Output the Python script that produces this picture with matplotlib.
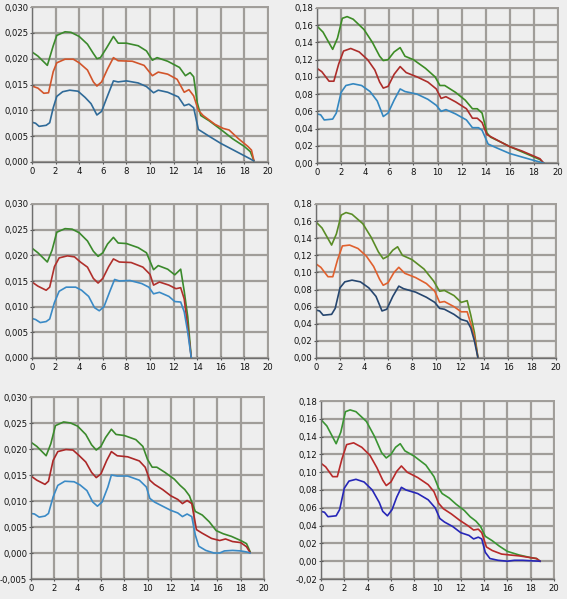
import matplotlib
matplotlib.use("Agg")
import matplotlib.pyplot as plt
from matplotlib.ticker import FuncFormatter, MultipleLocator

# ---- data (x = position, y = value) ----
# top left
tl_green_x = [0, 0.5, 1.3, 1.8, 2.1, 2.8, 3.3, 4.0, 4.7, 5.2, 5.5, 5.8, 6.3, 6.9, 7.3, 8.0, 9.0, 9.7, 10.2, 10.6, 11.5, 12.5, 13.0, 13.4, 13.7, 14.0, 14.3, 15.0, 16.0, 17.0, 18.0, 18.5, 18.8]
tl_green_y = [0.0213, 0.0205, 0.0187, 0.0225, 0.0245, 0.0252, 0.0251, 0.0243, 0.0228, 0.0210, 0.0200, 0.0202, 0.0220, 0.0243, 0.0230, 0.0230, 0.0225, 0.0215, 0.0197, 0.0202, 0.0195, 0.0183, 0.0167, 0.0173, 0.0165, 0.0115, 0.0090, 0.0080, 0.0063, 0.0045, 0.0030, 0.0020, 0.0003]
tl_red_x = [0, 0.5, 1.0, 1.4, 1.8, 2.1, 2.8, 3.5, 4.0, 4.7, 5.2, 5.5, 5.9, 6.4, 6.9, 7.3, 8.5, 9.5, 10.2, 10.7, 11.5, 12.3, 12.9, 13.3, 13.7, 14.1, 14.5, 15.5, 16.2, 16.7, 17.5, 18.3, 18.6, 18.8]
tl_red_y = [0.0147, 0.0143, 0.0133, 0.0134, 0.0175, 0.0192, 0.0199, 0.0199, 0.0192, 0.0178, 0.0155, 0.0147, 0.0155, 0.0180, 0.0202, 0.0196, 0.0195, 0.0187, 0.0167, 0.0174, 0.0170, 0.0160, 0.0135, 0.0140, 0.0128, 0.0100, 0.0090, 0.0073, 0.0065, 0.0062, 0.0045, 0.0030, 0.0023, 0.0003]
tl_blue_x = [0, 0.3, 0.6, 1.2, 1.5, 1.8, 2.1, 2.6, 3.2, 3.9, 4.5, 5.0, 5.5, 5.9, 6.3, 6.9, 7.3, 8.0, 9.0, 9.7, 10.3, 10.7, 11.5, 12.4, 12.9, 13.3, 13.7, 14.1, 15.0, 16.0, 17.0, 18.0, 18.5, 18.8]
tl_blue_y = [0.0077, 0.0075, 0.0069, 0.0071, 0.0076, 0.0105, 0.0127, 0.0136, 0.0139, 0.0137, 0.0125, 0.0113, 0.0091, 0.0098, 0.0122, 0.0157, 0.0155, 0.0157, 0.0153, 0.0146, 0.0134, 0.0139, 0.0135, 0.0126, 0.0109, 0.0112, 0.0105, 0.0063, 0.0050, 0.0036, 0.0024, 0.0012, 0.0006, 0.0002]

# top right
tr_green_x = [0, 0.5, 1.3, 1.7, 2.1, 2.5, 3.0, 3.9, 4.6, 5.2, 5.5, 5.9, 6.4, 6.9, 7.3, 8.0, 9.0, 9.8, 10.2, 10.6, 11.5, 12.3, 12.9, 13.3, 13.7, 14.1, 14.4, 15.3, 16.0, 17.0, 18.0, 18.5, 18.8]
tr_green_y = [0.159, 0.152, 0.132, 0.145, 0.168, 0.170, 0.167, 0.155, 0.140, 0.124, 0.119, 0.120, 0.129, 0.134, 0.124, 0.120, 0.110, 0.100, 0.090, 0.090, 0.082, 0.073, 0.063, 0.063, 0.058, 0.035, 0.030, 0.024, 0.019, 0.013, 0.007, 0.004, 0.000]
tr_red_x = [0, 0.4, 1.0, 1.4, 1.8, 2.2, 2.8, 3.5, 4.2, 4.8, 5.2, 5.5, 5.9, 6.4, 6.9, 7.4, 8.3, 9.2, 9.9, 10.3, 10.7, 11.5, 12.4, 12.9, 13.3, 13.7, 14.1, 14.5, 15.3, 16.0, 17.0, 18.0, 18.5, 18.8]
tr_red_y = [0.110, 0.106, 0.095, 0.095, 0.115, 0.130, 0.133, 0.129, 0.120, 0.108, 0.094, 0.087, 0.089, 0.103, 0.112, 0.105, 0.100, 0.094, 0.086, 0.075, 0.077, 0.071, 0.063, 0.052, 0.052, 0.047, 0.033, 0.030, 0.024, 0.019, 0.014, 0.008, 0.005, 0.000]
tr_blue_x = [0, 0.3, 0.6, 1.3, 1.6, 2.0, 2.4, 3.0, 3.7, 4.4, 5.0, 5.5, 5.9, 6.4, 6.9, 7.3, 8.3, 9.2, 9.9, 10.3, 10.7, 11.5, 12.4, 12.9, 13.4, 13.7, 14.2, 15.0, 16.0, 17.0, 18.0, 18.8]
tr_blue_y = [0.057, 0.056, 0.050, 0.051, 0.058, 0.082, 0.090, 0.092, 0.090, 0.083, 0.072, 0.054, 0.058, 0.073, 0.086, 0.083, 0.080, 0.074, 0.067, 0.060, 0.062, 0.057, 0.050, 0.041, 0.041, 0.038, 0.022, 0.017, 0.011, 0.007, 0.003, 0.000]

# middle left
ml_green_x = [0, 0.5, 1.3, 1.7, 2.1, 2.8, 3.4, 4.0, 4.7, 5.2, 5.6, 6.0, 6.4, 6.9, 7.3, 8.0, 9.0, 9.7, 10.3, 10.7, 11.5, 12.1, 12.6, 12.9, 13.2, 13.5]
ml_green_y = [0.0214, 0.0205, 0.0187, 0.0210, 0.0245, 0.0252, 0.0251, 0.0244, 0.0228, 0.0208, 0.0198, 0.0205, 0.0222, 0.0235, 0.0224, 0.0223, 0.0215, 0.0205, 0.0172, 0.0180, 0.0173, 0.0162, 0.0173, 0.0130, 0.0080, 0.0000]
ml_red_x = [0, 0.5, 1.2, 1.5, 1.9, 2.3, 3.0, 3.6, 4.1, 4.7, 5.2, 5.6, 6.0, 6.5, 6.9, 7.4, 8.4, 9.4, 10.0, 10.3, 10.8, 11.6, 12.2, 12.6, 12.9, 13.2, 13.5]
ml_red_y = [0.0148, 0.0140, 0.0132, 0.0138, 0.0178, 0.0195, 0.0199, 0.0197, 0.0187, 0.0177, 0.0155, 0.0146, 0.0155, 0.0178, 0.0193, 0.0187, 0.0186, 0.0177, 0.0163, 0.0142, 0.0148, 0.0142, 0.0135, 0.0137, 0.0115, 0.0060, 0.0000]
ml_blue_x = [0, 0.3, 0.7, 1.2, 1.5, 1.9, 2.3, 2.9, 3.7, 4.2, 4.8, 5.3, 5.7, 6.1, 6.6, 7.0, 7.4, 8.3, 9.3, 9.9, 10.3, 10.8, 11.6, 12.1, 12.6, 12.9, 13.2, 13.5]
ml_blue_y = [0.0077, 0.0075, 0.0069, 0.0071, 0.0076, 0.0108, 0.0130, 0.0138, 0.0138, 0.0132, 0.0120, 0.0098, 0.0092, 0.0100, 0.0130, 0.0153, 0.0150, 0.0151, 0.0145, 0.0138, 0.0125, 0.0128, 0.0120, 0.0110, 0.0109, 0.0090, 0.0050, 0.0000]

# middle right
mr_green_x = [0, 0.5, 1.3, 1.7, 2.1, 2.5, 3.0, 3.9, 4.6, 5.2, 5.6, 6.0, 6.4, 6.8, 7.2, 8.0, 9.0, 9.8, 10.3, 10.7, 11.5, 12.1, 12.6, 12.9, 13.2, 13.5]
mr_green_y = [0.159, 0.152, 0.132, 0.145, 0.167, 0.170, 0.168, 0.157, 0.141, 0.124, 0.116, 0.119, 0.126, 0.130, 0.120, 0.115, 0.104, 0.090, 0.078, 0.079, 0.073, 0.065, 0.067, 0.050, 0.030, 0.000]
mr_red_x = [0, 0.4, 1.0, 1.4, 1.8, 2.2, 2.8, 3.5, 4.2, 4.8, 5.3, 5.6, 6.0, 6.5, 6.9, 7.4, 8.3, 9.2, 9.9, 10.3, 10.7, 11.5, 12.1, 12.6, 12.9, 13.2, 13.5]
mr_red_y = [0.110, 0.106, 0.095, 0.095, 0.115, 0.131, 0.132, 0.128, 0.119, 0.107, 0.092, 0.085, 0.088, 0.100, 0.106, 0.099, 0.094, 0.087, 0.078, 0.065, 0.066, 0.060, 0.054, 0.054, 0.040, 0.025, 0.000]
mr_blue_x = [0, 0.3, 0.6, 1.3, 1.6, 2.0, 2.4, 3.0, 3.7, 4.4, 5.0, 5.5, 5.9, 6.4, 6.9, 7.3, 8.3, 9.2, 9.9, 10.3, 10.7, 11.5, 12.1, 12.6, 12.9, 13.2, 13.5]
mr_blue_y = [0.056, 0.055, 0.050, 0.051, 0.058, 0.082, 0.089, 0.091, 0.089, 0.082, 0.072, 0.055, 0.057, 0.072, 0.084, 0.081, 0.077, 0.071, 0.065, 0.058, 0.057, 0.051, 0.045, 0.043, 0.035, 0.020, 0.000]

# bottom left
bl_green_x = [0, 0.5, 1.3, 1.7, 2.1, 2.8, 3.4, 4.0, 4.7, 5.2, 5.6, 6.0, 6.4, 6.9, 7.3, 8.0, 9.0, 9.6, 10.0, 10.4, 10.8, 11.5, 12.3, 12.8, 13.2, 13.6, 14.1, 14.7, 15.3, 15.9, 16.5, 17.2, 18.0, 18.5, 18.8]
bl_green_y = [0.0213, 0.0205, 0.0187, 0.0210, 0.0245, 0.0252, 0.0250, 0.0244, 0.0228, 0.0208, 0.0198, 0.0205, 0.0222, 0.0238, 0.0228, 0.0226, 0.0218, 0.0205, 0.0180, 0.0165, 0.0165, 0.0155, 0.0142, 0.0130, 0.0122, 0.0110, 0.0080, 0.0073, 0.0060, 0.0043, 0.0037, 0.0032, 0.0024, 0.0018, 0.0003]
bl_red_x = [0, 0.5, 1.2, 1.5, 1.9, 2.3, 3.0, 3.6, 4.1, 4.7, 5.2, 5.6, 6.0, 6.5, 6.9, 7.4, 8.3, 9.3, 9.8, 10.2, 10.6, 11.3, 12.0, 12.6, 13.0, 13.4, 13.8, 14.2, 14.7, 15.5, 16.2, 16.7, 17.3, 18.0, 18.5, 18.8]
bl_red_y = [0.0148, 0.0140, 0.0132, 0.0138, 0.0178, 0.0195, 0.0199, 0.0198, 0.0188, 0.0175, 0.0155, 0.0145, 0.0152, 0.0178, 0.0195, 0.0187, 0.0185, 0.0177, 0.0165, 0.0140, 0.0132, 0.0122, 0.0110, 0.0103, 0.0095, 0.0101, 0.0095, 0.0045, 0.0038, 0.0028, 0.0024, 0.0027, 0.0022, 0.0020, 0.0012, 0.0001]
bl_blue_x = [0, 0.3, 0.7, 1.2, 1.5, 1.9, 2.3, 2.9, 3.7, 4.2, 4.8, 5.3, 5.7, 6.1, 6.6, 6.9, 7.4, 8.3, 9.3, 9.9, 10.2, 10.6, 11.3, 12.0, 12.6, 13.0, 13.4, 13.8, 14.1, 14.4, 15.0, 15.7, 16.2, 16.6, 17.3, 18.0, 18.5, 18.8]
bl_blue_y = [0.0076, 0.0075, 0.0069, 0.0071, 0.0076, 0.0108, 0.0130, 0.0138, 0.0137, 0.0131, 0.0120, 0.0098, 0.0090, 0.0098, 0.0127, 0.0150, 0.0148, 0.0148, 0.0140, 0.0127, 0.0105, 0.0098, 0.0090, 0.0082, 0.0077, 0.0070, 0.0075, 0.0070, 0.0035, 0.0013, 0.0005, 0.0000, 0.0000, 0.0004, 0.0005, 0.0004, 0.0002, 0.0000]

# bottom right
br_green_x = [0, 0.5, 1.3, 1.7, 2.1, 2.5, 3.0, 3.9, 4.6, 5.2, 5.6, 6.0, 6.4, 6.8, 7.2, 8.0, 9.0, 9.7, 10.1, 10.4, 11.0, 11.6, 12.3, 12.8, 13.3, 13.7, 14.1, 14.7, 15.3, 16.0, 17.0, 18.0, 18.5, 18.8]
br_green_y = [0.159, 0.152, 0.132, 0.145, 0.168, 0.170, 0.168, 0.157, 0.140, 0.122, 0.116, 0.120, 0.128, 0.132, 0.124, 0.118, 0.108, 0.095, 0.082, 0.076, 0.071, 0.064, 0.057, 0.050, 0.045, 0.039, 0.028, 0.023, 0.017, 0.011, 0.007, 0.004, 0.003, 0.000]
br_red_x = [0, 0.4, 1.0, 1.4, 1.8, 2.2, 2.8, 3.5, 4.2, 4.8, 5.3, 5.6, 6.0, 6.5, 6.9, 7.4, 8.3, 9.2, 9.7, 10.1, 10.5, 11.2, 11.9, 12.6, 13.1, 13.5, 13.8, 14.2, 14.7, 15.5, 16.2, 17.0, 18.0, 18.5, 18.8]
br_red_y = [0.110, 0.106, 0.095, 0.095, 0.115, 0.131, 0.133, 0.128, 0.119, 0.105, 0.091, 0.085, 0.089, 0.101, 0.107, 0.100, 0.094, 0.086, 0.078, 0.065, 0.059, 0.053, 0.046, 0.040, 0.035, 0.036, 0.032, 0.016, 0.012, 0.008, 0.007, 0.006, 0.004, 0.003, 0.000]
br_blue_x = [0, 0.3, 0.6, 1.3, 1.6, 2.0, 2.4, 3.0, 3.7, 4.4, 5.0, 5.3, 5.7, 6.1, 6.5, 6.9, 7.3, 8.3, 9.2, 9.8, 10.2, 10.6, 11.3, 12.0, 12.7, 13.1, 13.5, 13.8, 14.1, 14.5, 15.2, 16.0, 16.6, 17.3, 18.0, 18.8]
br_blue_y = [0.056, 0.055, 0.050, 0.051, 0.058, 0.082, 0.090, 0.092, 0.089, 0.080, 0.066, 0.056, 0.051, 0.058, 0.072, 0.083, 0.080, 0.076, 0.069, 0.060, 0.048, 0.044, 0.039, 0.032, 0.029, 0.025, 0.027, 0.025, 0.010, 0.003, 0.001, 0.000, 0.001, 0.001, 0.0005, 0.000]

BG = "#eeeeee"
GRID = "#a09d99"

plt.rcParams["axes.unicode_minus"] = False

W, H = 567, 599
fig = plt.figure(figsize=(W / 100, H / 100), dpi=100, facecolor=BG)


def make_axes(left, right, top, bottom):
    return fig.add_axes([left / W, 1 - bottom / H, (right - left) / W, (bottom - top) / H])


def style(ax, ymin, ymax, ystep, digits):
    ax.set_facecolor(BG)
    ax.set_xlim(0, 20)
    ax.set_ylim(ymin, ymax)
    ax.xaxis.set_major_locator(MultipleLocator(2))
    ax.yaxis.set_major_locator(MultipleLocator(ystep))
    ax.yaxis.set_major_formatter(FuncFormatter(lambda v, p: f"{v:.{digits}f}".replace(".", ",")))
    ax.grid(True, color=GRID, linewidth=1.6)
    ax.set_axisbelow(True)
    for s in ax.spines.values():
        s.set_color(GRID)
        s.set_linewidth(1.4)
    ax.spines["left"].set_color("#6e6e6e")
    ax.spines["bottom"].set_color("#6e6e6e")
    ax.spines["left"].set_linewidth(1.0)
    ax.spines["bottom"].set_linewidth(1.0)
    ax.tick_params(axis="both", labelsize=6.1, length=3, width=0.8, color="#555555",
                   direction="inout", labelcolor="#111111")
    ax.tick_params(axis="x", pad=2)
    ax.tick_params(axis="y", pad=1.2)


panels = [
    ((32, 268, 7, 162), (0, 0.030, 0.005, 3),
     [(tl_green_x, tl_green_y, "#3b8a2c"), (tl_red_x, tl_red_y, "#d2552b"), (tl_blue_x, tl_blue_y, "#2f6a98")]),
    ((317, 558, 8, 163), (0, 0.18, 0.02, 2),
     [(tr_green_x, tr_green_y, "#3c8c25"), (tr_red_x, tr_red_y, "#ad2d2a"), (tr_blue_x, tr_blue_y, "#3487c0")]),
    ((32, 268, 204, 358), (0, 0.030, 0.005, 3),
     [(ml_green_x, ml_green_y, "#3b8a2c"), (ml_red_x, ml_red_y, "#b0302c"), (ml_blue_x, ml_blue_y, "#3a8ac6")]),
    ((316, 556, 204, 358), (0, 0.18, 0.02, 2),
     [(mr_green_x, mr_green_y, "#5a8c26"), (mr_red_x, mr_red_y, "#e0602e"), (mr_blue_x, mr_blue_y, "#26466f")]),
    ((31, 264, 397, 579), (-0.005, 0.030, 0.005, 3),
     [(bl_green_x, bl_green_y, "#3b8a2c"), (bl_red_x, bl_red_y, "#ac2828"), (bl_blue_x, bl_blue_y, "#3a8ac6")]),
    ((321, 554, 401, 579), (-0.02, 0.18, 0.02, 2),
     [(br_green_x, br_green_y, "#3a9432"), (br_red_x, br_red_y, "#b82a2a"), (br_blue_x, br_blue_y, "#2626b8")]),
]

for box, (ymin, ymax, ystep, digits), series in panels:
    ax = make_axes(*box)
    style(ax, ymin, ymax, ystep, digits)
    for xs, ys, col in series:
        ax.plot(xs, ys, color=col, linewidth=1.2, solid_joinstyle="round")

fig.savefig("out.png", dpi=100, facecolor=BG)
